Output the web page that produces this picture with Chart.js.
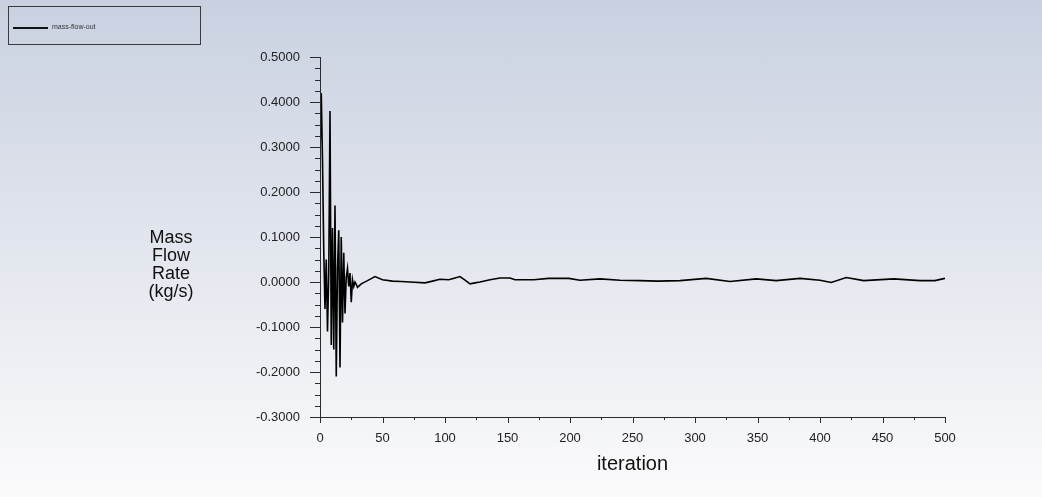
<!DOCTYPE html>
<html>
<head>
<meta charset="utf-8">
<script src="https://cdn.jsdelivr.net/npm/chart.js@4.4.1/dist/chart.umd.min.js"></script>
<style>
  body { margin: 0; }
  #wrap {
    position: relative;
    width: 1042px;
    height: 497px;
    background: linear-gradient(to bottom, #c9d1e1 0%, #e5e8ef 55%, #fbfbfc 100%);
    font-family: 'Liberation Sans', Arial, sans-serif;
  }
  #chart { position: absolute; left: 0; top: 0; }
  #legend {
    position: absolute; left: 8px; top: 6px; width: 191px; height: 37px;
    border: 1.5px solid #3a3a3a;
  }
  #legend .swatch { position: absolute; left: 4px; top: 20px; width: 35px; height: 2px; background: #111; }
  #legend .label { position: absolute; left: 43px; top: 16px; font-size: 7px; color: #333; }
  #ytitle {
    position: absolute; left: 121px; top: 228px; width: 100px;
    text-align: center; font-size: 18px; line-height: 18px; color: #111;
  }
</style>
</head>
<body>
<div id="wrap">
  <canvas id="chart" width="1042" height="497"></canvas>
  <div id="legend"><div class="swatch"></div><div class="label">mass-flow-out</div></div>
  <div id="ytitle">Mass<br>Flow<br>Rate<br>(kg/s)</div>
</div>
<script>
// iteration numbers and mass flow values
const iterations = [
  0, 1, 2, 3, 4, 5, 6, 7, 8, 9, 10, 11, 12, 13, 14, 15, 16, 17, 18, 19, 20,
  21, 22, 23, 24, 25, 26, 27, 28, 29, 30, 33, 38, 44, 50, 58, 65, 72, 84, 90,
  96, 103, 108, 112, 116, 120, 124, 128, 136, 144, 152, 156, 171, 183, 199,
  208, 224, 240, 256, 270, 288, 309, 328, 349, 365, 384, 400, 409, 421, 435,
  459, 480, 492, 500
];
const massFlow = [
  0.28, 0.42, 0.27, 0.07, -0.06, 0.05, -0.11, 0.02, 0.38, -0.14, 0.12,
  -0.15, 0.17, -0.21, 0.03, 0.115, -0.19, 0.10, -0.09, 0.065, -0.07,
  0.01, 0.03, -0.01, 0.02, -0.045, 0.005, -0.01, 0.0, -0.005, -0.012, -0.004, 0.003, 0.012, 0.005, 0.002, 0.001, 0.0, -0.002, 0.002,
  0.006, 0.005, 0.009, 0.012, 0.004, -0.004, -0.002, 0.0, 0.005, 0.009, 0.009, 0.005, 0.005, 0.008, 0.008,
  0.004, 0.007, 0.004, 0.003, 0.002, 0.003, 0.008, 0.001, 0.007, 0.003, 0.008, 0.004, -0.001, 0.01, 0.003,
  0.007, 0.003, 0.003, 0.008
];
const xTickValues = [0, 50, 100, 150, 200, 250, 300, 350, 400, 450, 500];
const yTickValues = [-0.3, -0.2, -0.1, 0.0, 0.1, 0.2, 0.3, 0.4, 0.5];
const seriesName = 'mass-flow-out';

const points = iterations.map((it, i) => ({ x: it, y: massFlow[i] }));

// axes with major + minor ticks drawn outside, like the solver plot
const axisTicks = {
  id: 'axisTicks',
  afterDraw(chart) {
    const ctx = chart.ctx;
    const xs = chart.scales.x, ys = chart.scales.y;
    const area = chart.chartArea;
    ctx.save();
    ctx.strokeStyle = '#2b2b2b';
    ctx.lineWidth = 1;
    ctx.beginPath();
    ctx.moveTo(area.left + 0.5, area.top);
    ctx.lineTo(area.left + 0.5, area.bottom);
    ctx.moveTo(area.left, area.bottom + 0.5);
    ctx.lineTo(area.right, area.bottom + 0.5);
    // y ticks: major every 0.1, 3 minor between
    for (let i = 0; i < yTickValues.length; i++) {
      const y = Math.round(ys.getPixelForValue(yTickValues[i])) + 0.5;
      ctx.moveTo(area.left - 10, y);
      ctx.lineTo(area.left, y);
      if (i < yTickValues.length - 1) {
        for (let k = 1; k < 4; k++) {
          const v = yTickValues[i] + k * 0.025;
          const ym = Math.round(ys.getPixelForValue(v)) + 0.5;
          ctx.moveTo(area.left - 5, ym);
          ctx.lineTo(area.left, ym);
        }
      }
    }
    // x ticks: major every 50, minor at 25
    for (let i = 0; i < xTickValues.length; i++) {
      const x = Math.round(xs.getPixelForValue(xTickValues[i])) + 0.5;
      ctx.moveTo(x, area.bottom);
      ctx.lineTo(x, area.bottom + 6);
      if (i < xTickValues.length - 1) {
        const xm = Math.round(xs.getPixelForValue(xTickValues[i] + 25)) + 0.5;
        ctx.moveTo(xm, area.bottom);
        ctx.lineTo(xm, area.bottom + 3);
      }
    }
    ctx.stroke();
    ctx.restore();
  }
};

new Chart(document.getElementById('chart'), {
  type: 'line',
  data: {
    datasets: [{
      label: seriesName,
      data: points,
      borderColor: '#000',
      borderWidth: 1.6,
      pointRadius: 0,
      tension: 0,
      fill: false
    }]
  },
  options: {
    responsive: false,
    animation: false,
    layout: { padding: { left: 0, top: 57, right: 97, bottom: 0 } },
    plugins: { legend: { display: false }, tooltip: { enabled: false } },
    scales: {
      x: {
        type: 'linear',
        min: 0, max: 500,
        afterBuildTicks: (s) => { s.ticks = xTickValues.map(v => ({ value: v })); },
        afterFit: (s) => { s.height = 80; },
        grid: { display: false },
        border: { display: false },
        ticks: {
          padding: 6,
          maxRotation: 0,
          color: '#222',
          font: { family: "'Liberation Sans', Arial, sans-serif", size: 13 },
          callback: (v) => String(v)
        },
        title: {
          display: true,
          text: 'iteration',
          color: '#111',
          padding: { top: 0, bottom: 21 },
          font: { family: "'Liberation Sans', Arial, sans-serif", size: 20 }
        }
      },
      y: {
        type: 'linear',
        min: -0.3, max: 0.5,
        afterBuildTicks: (s) => { s.ticks = yTickValues.map(v => ({ value: v })); },
        afterFit: (s) => { s.width = 320; },
        grid: { display: false },
        border: { display: false },
        ticks: {
          padding: 12,
          color: '#222',
          font: { family: "'Liberation Sans', Arial, sans-serif", size: 13 },
          callback: (v) => (Math.abs(v) < 1e-9 ? 0 : v).toFixed(4)
        }
      }
    }
  },
  plugins: [axisTicks]
});
</script>
</body>
</html>
